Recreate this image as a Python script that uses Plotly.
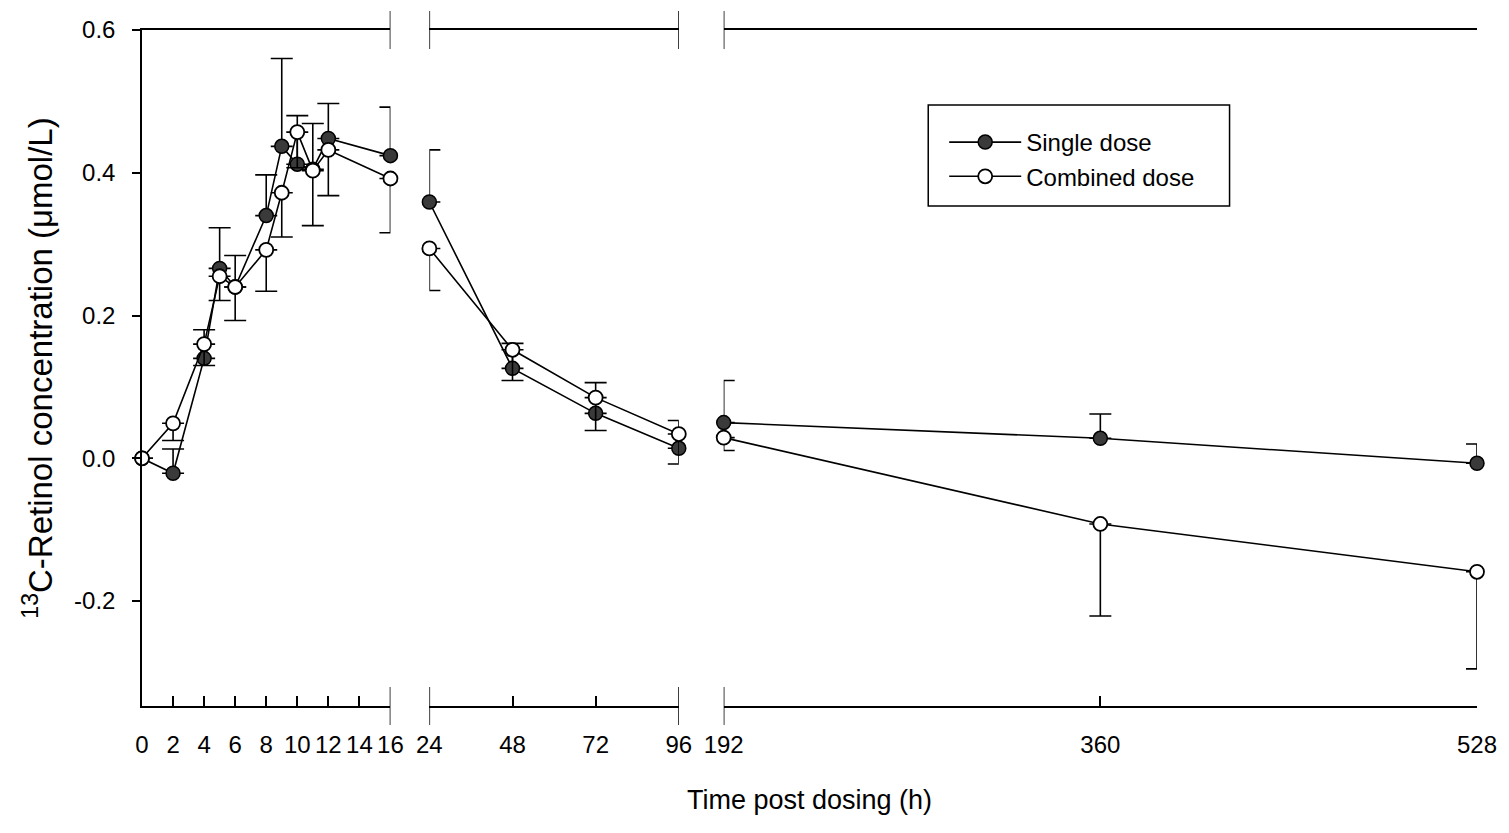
import plotly.graph_objects as go

# ---- data ----
t_early = [0, 2, 4, 5, 6, 8, 9, 10, 11, 12, 16]
single_early = [0.0, -0.021, 0.14, 0.266, 0.24, 0.34, 0.437, 0.412, 0.405, 0.448, 0.424]
single_early_err = [0.0, 0.034, 0.04, 0.057, 0.044, 0.057, 0.123, 0.068, 0.064, 0.049, 0.068]
combined_early = [0.0, 0.049, 0.16, 0.255, 0.24, 0.292, 0.372, 0.457, 0.403, 0.432, 0.392]
combined_early_err = [0.0, 0.024, 0.03, 0.034, 0.047, 0.058, 0.062, 0.05, 0.077, 0.064, 0.076]

t_mid = [24, 48, 72, 96]
single_mid = [0.359, 0.126, 0.063, 0.014]
single_mid_err = [0.073, 0.035, 0.043, 0.039]
combined_mid = [0.294, 0.152, 0.085, 0.034]
combined_mid_err = [0.059, 0.043, 0.046, 0.042]

t_late = [192, 360, 528]
single_late = [0.050, 0.028, -0.007]
single_late_err = [0.059, 0.034, 0.027]
combined_late = [0.029, -0.092, -0.159]
combined_late_err = [0.018, 0.129, 0.136]

ticks_early = [0, 2, 4, 6, 8, 10, 12, 14, 16]
ticks_mid = [24, 48, 72, 96]
ticks_late = [192, 360, 528]
y_ticks = [-0.2, 0.0, 0.2, 0.4, 0.6]
y_tick_labels = ["-0.2", "0.0", "0.2", "0.4", "0.6"]

FONT = "Liberation Sans, Arial, sans-serif"
FILL = "#3a3a3a"
fig = go.Figure()

panels = [
    ("x", t_early, single_early, single_early_err, combined_early, combined_early_err),
    ("x2", t_mid, single_mid, single_mid_err, combined_mid, combined_mid_err),
    ("x3", t_late, single_late, single_late_err, combined_late, combined_late_err),
]

# single dose traces first
for i, (xa, t, s, se, c, ce) in enumerate(panels):
    fig.add_trace(go.Scatter(
        x=t, y=s, xaxis=xa, yaxis="y", mode="lines+markers", cliponaxis=False,
        name="Single dose", legendgroup="single", showlegend=(i == 0),
        line=dict(color="black", width=1.6),
        marker=dict(symbol="circle", size=14, color=FILL, line=dict(color="black", width=1.5)),
        error_y=dict(type="data", symmetric=False, array=se, arrayminus=[0] * len(se),
                     color="black", thickness=1.6, width=11),
    ))
for i, (xa, t, s, se, c, ce) in enumerate(panels):
    fig.add_trace(go.Scatter(
        x=t, y=c, xaxis=xa, yaxis="y", mode="lines+markers", cliponaxis=False,
        name="Combined dose", legendgroup="combined", showlegend=(i == 0),
        line=dict(color="black", width=1.6),
        marker=dict(symbol="circle", size=14, color="white", line=dict(color="black", width=1.8)),
        error_y=dict(type="data", symmetric=False, array=[0] * len(ce), arrayminus=ce,
                     color="black", thickness=1.6, width=11),
    ))

L, R, T, B = 142, 1480, 30, 706
W, H = 1509, 833
pw = R - L
ph = B - T

def px(xp):
    return (xp - L) / pw

def py(yp):
    return (B - yp) / ph

yr = [-0.347, 0.6]

xcommon = dict(showline=True, linecolor="black", linewidth=1.5, mirror=True,
               ticks="inside", ticklen=10, tickwidth=1.5, tickcolor="black",
               showgrid=False, zeroline=False, anchor="y",
               tickfont=dict(family=FONT, size=24, color="black"),
               ticklabelstandoff=16)

fig.update_layout(
    width=W, height=H,
    margin=dict(l=L, r=W - R, t=T, b=H - B),
    paper_bgcolor="white", plot_bgcolor="white",
    font=dict(family=FONT, color="black"),
    xaxis=dict(domain=[0, px(391)], range=[0, 16], tickvals=ticks_early, **xcommon),
    xaxis2=dict(domain=[px(430), px(680)], range=[24, 96], tickvals=ticks_mid, **xcommon),
    xaxis3=dict(domain=[px(725), 1], range=[192, 528], tickvals=ticks_late, **xcommon),
    yaxis=dict(range=yr, tickvals=y_ticks, ticktext=y_tick_labels, showline=True, linecolor="black",
               linewidth=1.5, ticks="outside", ticklen=8, tickwidth=1.5, tickcolor="black",
               showgrid=False, zeroline=False, anchor="x",
               tickfont=dict(family=FONT, size=24, color="black"), ticklabelstandoff=12,
               title=dict(text="<sup>13</sup>C-Retinol concentration (μmol/L)",
                          font=dict(family=FONT, size=33, color="black"), standoff=12)),
    yaxis2=dict(range=yr, overlaying="y", anchor="x3", side="right", showline=True,
                linecolor="black", linewidth=1.5, ticks="", showticklabels=False,
                showgrid=False, zeroline=False),
    showlegend=True,
    legend=dict(x=px(946), y=py(120), xanchor="left", yanchor="top",
                bgcolor="rgba(0,0,0,0)", borderwidth=0, itemwidth=72,
                font=dict(family=FONT, size=24, color="black"), tracegroupgap=0),
)

# x-axis title (spans all panels)
fig.add_annotation(text="Time post dosing (h)", xref="paper", yref="paper",
                   x=0.5, y=py(800), xanchor="center", yanchor="middle", showarrow=False,
                   font=dict(family=FONT, size=27, color="black"))

# legend frame
fig.add_shape(type="rect", xref="paper", yref="paper", x0=px(930), x1=px(1232),
              y0=py(206), y1=py(105), line=dict(color="black", width=1.5))

# axis break marks
brk = 0.028
for xa, xv in [("x", 16), ("x2", 24), ("x2", 96), ("x3", 192)]:
    for yc in (0, 1):
        fig.add_shape(type="line", xref=xa, yref="paper", x0=xv, x1=xv,
                      y0=yc - brk, y1=yc + brk, line=dict(color="black", width=1.5))

fig.write_html("out.html")
